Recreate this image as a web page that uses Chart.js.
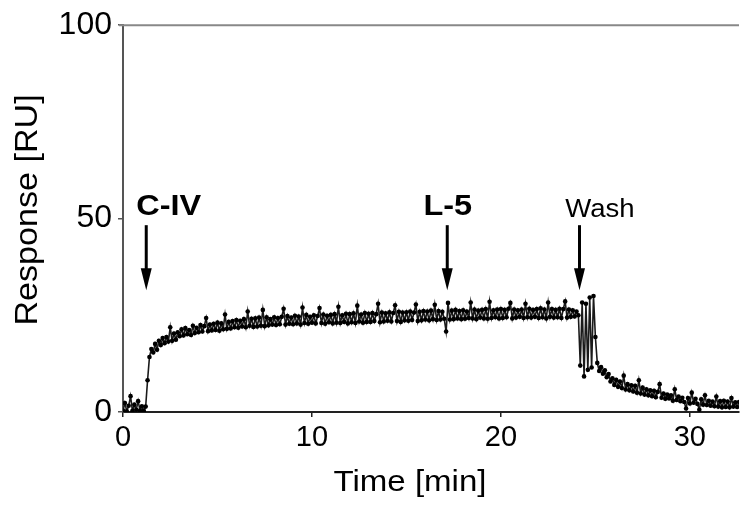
<!DOCTYPE html>
<html>
<head>
<meta charset="utf-8">
<script src="https://cdn.jsdelivr.net/npm/chart.js@4.4.0/dist/chart.umd.min.js"></script>
<style>
  html, body { margin: 0; padding: 0; background: #fff; }
  #wrap { width: 743px; height: 507px; position: relative; }
</style>
</head>
<body>
<div id="wrap"><canvas id="myChart"></canvas></div>
<script>
// SPR sensorgram, one reading every 0.1 min (one row = one minute)
const sampleStep = 0.1;
const response = [
  0.4, 2.3, 0.2, 1.6, 4.1, 0.3, 1.9, 0.6, 2.8, 0.4,
  1.5, 0.3, 1.4, 8.2, 14.2, 16.3, 15.4, 17.6, 16.1, 18.4,
  17.3, 19.1, 17.8, 19.4, 18.2, 21.9, 18.4, 20.3, 18.7, 20.6,
  19.6, 21.4, 19.8, 21.7, 20.1, 21.2, 19.9, 22.3, 20.4, 21.8,
  20.6, 22.5, 20.8, 22.2, 24.3, 20.9, 22.6, 21.1, 22.8, 21.2,
  23.1, 21.0, 22.9, 21.4, 25.2, 21.5, 23.3, 21.6, 23.5, 21.9,
  23.8, 21.8, 23.6, 22.1, 24.0, 21.9, 26.0, 22.3, 24.1, 22.0,
  24.2, 22.1, 24.4, 22.3, 26.4, 22.2, 24.5, 22.4, 24.0, 22.6,
  24.5, 22.5, 24.3, 22.7, 24.6, 26.7, 22.6, 24.8, 22.8, 24.4,
  22.7, 24.9, 22.9, 24.7, 22.6, 27.0, 23.0, 25.1, 22.8, 24.6,
  23.1, 25.0, 22.9, 24.8, 26.9, 23.0, 25.2, 22.8, 24.9, 23.2,
  25.1, 22.9, 25.3, 23.1, 27.2, 23.0, 25.0, 23.3, 25.4, 22.9,
  25.3, 23.2, 25.5, 23.0, 27.5, 23.4, 25.2, 23.1, 25.6, 23.3,
  25.4, 23.3, 25.6, 23.5, 25.3, 28.0, 23.2, 25.7, 23.4, 25.5,
  23.6, 25.8, 23.4, 25.6, 27.6, 23.5, 25.9, 23.3, 25.7, 23.7,
  25.8, 23.6, 26.0, 23.8, 25.7, 27.8, 23.5, 25.9, 23.7, 26.1,
  23.9, 26.0, 23.7, 26.2, 24.0, 27.7, 23.8, 26.1, 23.9, 25.9,
  24.1, 20.8, 28.2, 23.9, 26.2, 24.0, 26.4, 24.2, 26.1, 24.0,
  26.3, 24.1, 26.0, 24.3, 28.3, 24.2, 26.5, 24.0, 26.2, 24.4,
  26.4, 24.2, 26.6, 24.1, 28.5, 24.3, 26.3, 24.5, 26.5, 24.2,
  26.6, 24.3, 26.4, 24.5, 26.7, 28.2, 24.2, 26.5, 24.4, 26.3,
  24.6, 26.5, 24.3, 28.0, 24.5, 26.7, 24.4, 26.4, 24.6, 26.6,
  24.3, 26.8, 24.5, 26.5, 24.2, 28.3, 24.6, 26.6, 24.4, 26.4,
  24.5, 26.7, 24.3, 26.6, 28.6, 24.4, 26.5, 24.6, 26.3, 24.7,
  26.0, 25.0, 12.0, 28.3, 9.2, 28.0, 10.9, 29.6, 11.5, 30.0,
  19.4, 12.7, 10.6, 11.6, 9.9, 10.8, 9.0, 9.8, 7.9, 8.7,
  7.0, 8.3, 6.5, 7.9, 6.2, 9.4, 5.8, 7.2, 5.6, 6.9,
  5.3, 6.8, 5.0, 8.2, 4.8, 6.3, 4.5, 5.9, 4.3, 5.6,
  4.1, 5.5, 3.8, 5.2, 7.2, 3.7, 4.8, 3.4, 4.5, 3.5,
  4.3, 2.9, 5.9, 3.1, 4.0, 2.8, 3.7, 2.6, 0.9, 3.6,
  2.2, 5.0, 2.4, 3.4, 2.1, 0.6, 3.3, 1.9, 4.3, 1.8,
  2.9, 1.6, 2.7, 1.5, 4.0, 1.4, 2.8, 1.2, 2.9, 1.3,
  2.7, 1.2, 3.6, 1.4, 2.5, 1.3, 2.6
];
const times = response.map((v, i) => +(i * sampleStep).toFixed(1));

const yTicks = [0, 50, 100];
const xTicks = [0, 10, 20, 30];

// injection markers
const markerNames = ['C-IV', 'L-5', 'Wash'];
const markerTimes = [1.23, 17.16, 24.16];
const markerLabelTimes = [0.7, 15.9, 23.4];
const markerBold = [true, true, false];

const FONT = '"Liberation Sans", Arial, Helvetica, sans-serif';

function stretchText(ctx, text, x, y, sx) {
    ctx.save();
    ctx.translate(x, y);
    ctx.scale(sx, 1);
    ctx.fillText(text, 0, 0);
    ctx.restore();
}

const annotate = {
    id: 'annotate',
    afterDraw(chart) {
        const { ctx, chartArea } = chart;
        const xs = chart.scales.x, ys = chart.scales.y;
        ctx.save();

        // top frame line
        ctx.strokeStyle = '#888';
        ctx.lineWidth = 2;
        ctx.beginPath();
        ctx.moveTo(chartArea.left - 4, chartArea.top);
        ctx.lineTo(chartArea.right, chartArea.top);
        ctx.stroke();

        // arrows + labels
        ctx.fillStyle = '#000';
        ctx.strokeStyle = '#000';
        markerTimes.forEach((t, i) => {
            const px = xs.getPixelForValue(t);
            const yTop = ys.getPixelForValue(48.3);
            const yTip = ys.getPixelForValue(31.5);
            ctx.lineWidth = 3;
            ctx.beginPath();
            ctx.moveTo(px, yTop);
            ctx.lineTo(px, yTip - 18);
            ctx.stroke();
            ctx.beginPath();
            ctx.moveTo(px - 5.5, yTip - 22);
            ctx.lineTo(px + 5.5, yTip - 22);
            ctx.lineTo(px, yTip);
            ctx.closePath();
            ctx.fill();

            ctx.textAlign = 'left';
            ctx.textBaseline = 'alphabetic';
            ctx.font = (markerBold[i] ? 'bold 29px ' : '26px ') + FONT;
            const lx = xs.getPixelForValue(markerLabelTimes[i]);
            const ly = ys.getPixelForValue(markerBold[i] ? 50.9 : 50.4);
            stretchText(ctx, markerNames[i], lx, ly, markerBold[i] ? 1.12 : 1.06);
        });

        // axis titles
        ctx.font = '29px ' + FONT;
        ctx.textAlign = 'center';
        ctx.textBaseline = 'alphabetic';
        stretchText(ctx, 'Time [min]', 410, 491, 1.14);

        ctx.font = '31px ' + FONT;
        ctx.textBaseline = 'middle';
        ctx.save();
        ctx.translate(28, 210);
        ctx.rotate(-Math.PI / 2);
        ctx.scale(1.1, 1);
        ctx.fillText('Response [RU]', 0, 0);
        ctx.restore();

        ctx.restore();
    }
};

document.addEventListener('DOMContentLoaded', function() {
    const ctx = document.getElementById('myChart').getContext('2d');
    new Chart(ctx, {
        type: 'line',
        plugins: [annotate],
        data: {
            datasets: [{
                data: times.map((t, i) => ({ x: t, y: response[i] })),
                borderColor: '#1a1a1a',
                borderWidth: 1.6,
                pointRadius: 2.3,
                pointBackgroundColor: '#000',
                pointBorderWidth: 0,
                tension: 0
            }]
        },
        options: {
            responsive: true,
            maintainAspectRatio: false,
            animation: false,
            layout: { padding: { top: 20, right: 0, left: 0, bottom: 0 } },
            plugins: {
                legend: { display: false },
                tooltip: { enabled: false }
            },
            scales: {
                x: {
                    type: 'linear',
                    min: 0,
                    max: 32.6,
                    afterFit: s => { s.height = 95; },
                    afterBuildTicks: s => { s.ticks = xTicks.map(v => ({ value: v })); },
                    border: { display: true, color: '#222', width: 2 },
                    grid: { drawOnChartArea: false, drawTicks: true, tickLength: 5, color: '#222', lineWidth: 1.5 },
                    ticks: { color: '#000', padding: 4, maxRotation: 0, font: { family: FONT, size: 29 } }
                },
                y: {
                    min: 0,
                    max: 100,
                    afterFit: s => { s.width = 123; },
                    afterBuildTicks: s => { s.ticks = yTicks.map(v => ({ value: v })); },
                    border: { display: true, color: '#555', width: 2 },
                    grid: { drawOnChartArea: false, drawTicks: true, tickLength: 5, color: '#555', lineWidth: 1.5 },
                    ticks: { color: '#000', padding: 6, font: { family: FONT, size: 32 } }
                }
            }
        }
    });
});
</script>
</body>
</html>
